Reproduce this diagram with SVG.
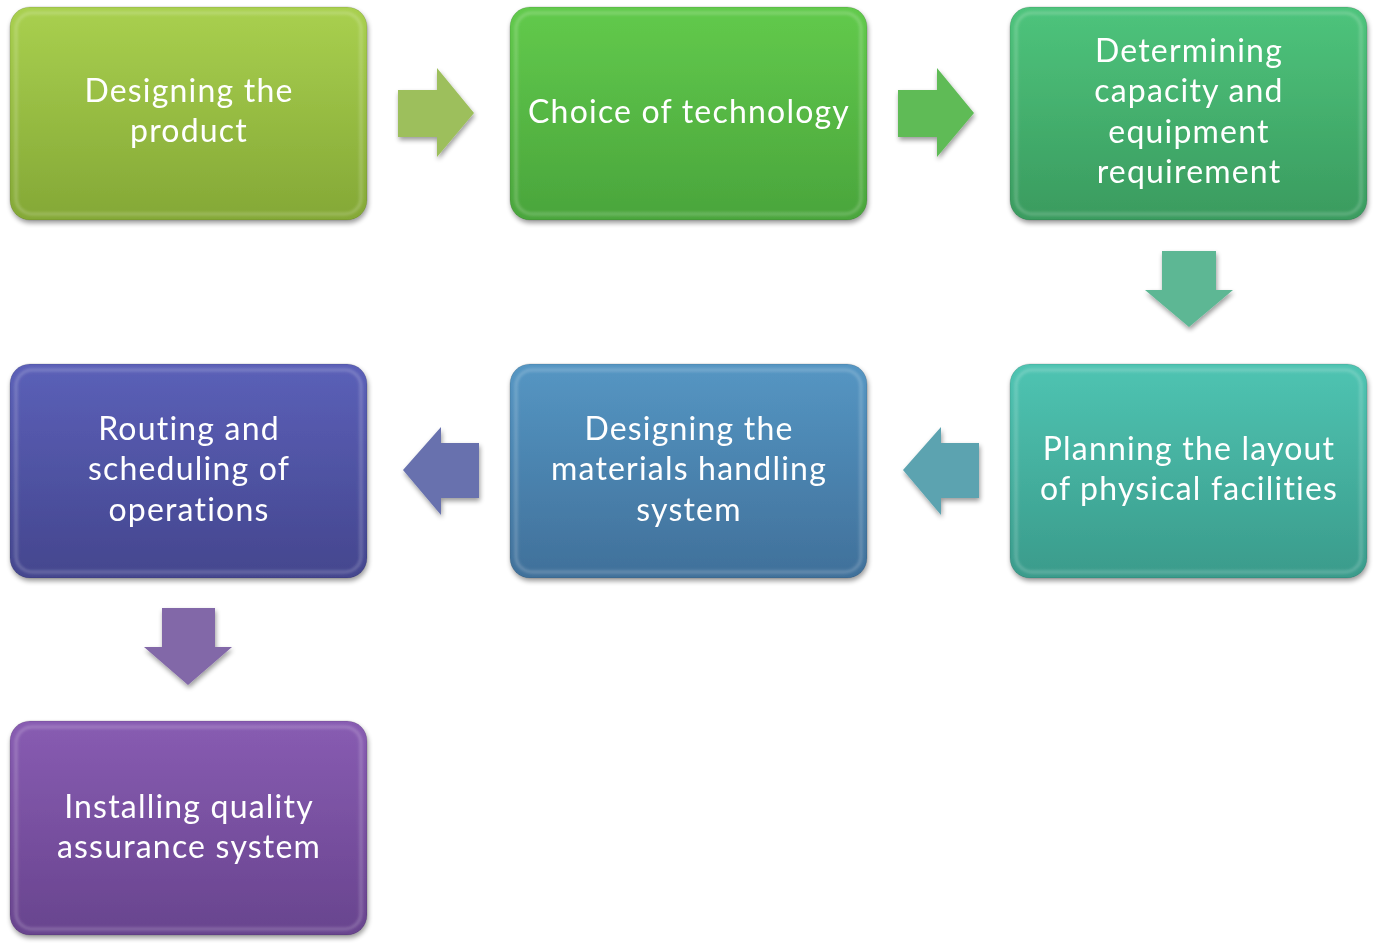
<svg xmlns="http://www.w3.org/2000/svg" width="1378" height="948" viewBox="0 0 1378 948">
<defs>
<filter id="sh" x="-10%" y="-10%" width="120%" height="125%">
<feGaussianBlur in="SourceAlpha" stdDeviation="2.5"/>
<feOffset dx="1" dy="3" result="b"/>
<feComponentTransfer><feFuncA type="linear" slope="0.4"/></feComponentTransfer>
<feMerge><feMergeNode/><feMergeNode in="SourceGraphic"/></feMerge>
</filter>
<filter id="soft"><feGaussianBlur stdDeviation="1.5"/></filter>
<linearGradient id="g1" x1="0" y1="0" x2="0" y2="1"><stop offset="0" stop-color="#a9d04f"/><stop offset="1" stop-color="#84a836"/></linearGradient>
<linearGradient id="g2" x1="0" y1="0" x2="0" y2="1"><stop offset="0" stop-color="#62ca4c"/><stop offset="1" stop-color="#4aa53c"/></linearGradient>
<linearGradient id="g3" x1="0" y1="0" x2="0" y2="1"><stop offset="0" stop-color="#4ec47c"/><stop offset="1" stop-color="#3a9b5f"/></linearGradient>
<linearGradient id="g4" x1="0" y1="0" x2="0" y2="1"><stop offset="0" stop-color="#4fc4b2"/><stop offset="1" stop-color="#3a9b8b"/></linearGradient>
<linearGradient id="g5" x1="0" y1="0" x2="0" y2="1"><stop offset="0" stop-color="#5596c3"/><stop offset="1" stop-color="#40709a"/></linearGradient>
<linearGradient id="g6" x1="0" y1="0" x2="0" y2="1"><stop offset="0" stop-color="#5b60b8"/><stop offset="1" stop-color="#44468e"/></linearGradient>
<linearGradient id="g7" x1="0" y1="0" x2="0" y2="1"><stop offset="0" stop-color="#885cb2"/><stop offset="1" stop-color="#68448e"/></linearGradient>
</defs>
<style>
.box{filter:url(#sh);}
.edge{fill:none;stroke:#ffffff;stroke-opacity:0.22;stroke-width:3;filter:url(#soft);}
.outer{stroke:#000;stroke-opacity:0.12;stroke-width:1;}
.t{font-family:Lato,"Open Sans",sans-serif;font-size:32px;letter-spacing:1.2px;fill:#ffffff;text-anchor:middle;}
.arr{filter:url(#sh);}
</style>
<g id="connectors">
<polygon class="arr" fill="#9dbf5c" points="398,90 437,90 437,68 474,113 437,157 437,137 398,137"/>
<polygon class="arr" fill="#5fbb56" points="898,90 937,90 937,68 974,113 937,157 937,137 898,137"/>
<polygon class="arr" fill="#5db794" points="1162,251 1216,251 1216,290 1233,290 1189,327 1145,290 1162,290"/>
<polygon class="arr" fill="#5ba3b0" points="979,443 941,443 941,427 903,470 941,515 941,498 979,498"/>
<polygon class="arr" fill="#6771ae" points="479,443 441,443 441,427 403,470 441,515 441,498 479,498"/>
<polygon class="arr" fill="#8268a8" points="162,608 215,608 215,647 232,647 188,685 144,647 162,647"/>
</g>
<g id="n1" class="box">
<rect class="outer" x="10" y="7" width="357" height="213" rx="20" fill="url(#g1)"/>
<rect class="edge" x="16" y="13" width="345" height="201" rx="16"/>
<text class="t" x="189" y="102">Designing the</text>
<text class="t" x="189" y="142">product</text>
</g>
<g id="n2" class="box">
<rect class="outer" x="510" y="7" width="357" height="213" rx="20" fill="url(#g2)"/>
<rect class="edge" x="516" y="13" width="345" height="201" rx="16"/>
<text class="t" x="689" y="123">Choice of technology</text>
</g>
<g id="n3" class="box">
<rect class="outer" x="1010" y="7" width="357" height="213" rx="20" fill="url(#g3)"/>
<rect class="edge" x="1016" y="13" width="345" height="201" rx="16"/>
<text class="t" x="1189" y="62">Determining</text>
<text class="t" x="1189" y="102">capacity and</text>
<text class="t" x="1189" y="143">equipment</text>
<text class="t" x="1189" y="183">requirement</text>
</g>
<g id="n4" class="box">
<rect class="outer" x="1010" y="364" width="357" height="214" rx="20" fill="url(#g4)"/>
<rect class="edge" x="1016" y="370" width="345" height="202" rx="16"/>
<text class="t" x="1189" y="460">Planning the layout</text>
<text class="t" x="1189" y="500">of physical facilities</text>
</g>
<g id="n5" class="box">
<rect class="outer" x="510" y="364" width="357" height="214" rx="20" fill="url(#g5)"/>
<rect class="edge" x="516" y="370" width="345" height="202" rx="16"/>
<text class="t" x="689" y="440">Designing the</text>
<text class="t" x="689" y="480">materials handling</text>
<text class="t" x="689" y="521">system</text>
</g>
<g id="n6" class="box">
<rect class="outer" x="10" y="364" width="357" height="214" rx="20" fill="url(#g6)"/>
<rect class="edge" x="16" y="370" width="345" height="202" rx="16"/>
<text class="t" x="189" y="440">Routing and</text>
<text class="t" x="189" y="480">scheduling of</text>
<text class="t" x="189" y="521">operations</text>
</g>
<g id="n7" class="box">
<rect class="outer" x="10" y="721" width="357" height="214" rx="20" fill="url(#g7)"/>
<rect class="edge" x="16" y="727" width="345" height="202" rx="16"/>
<text class="t" x="189" y="818">Installing quality</text>
<text class="t" x="189" y="858">assurance system</text>
</g>
</svg>
